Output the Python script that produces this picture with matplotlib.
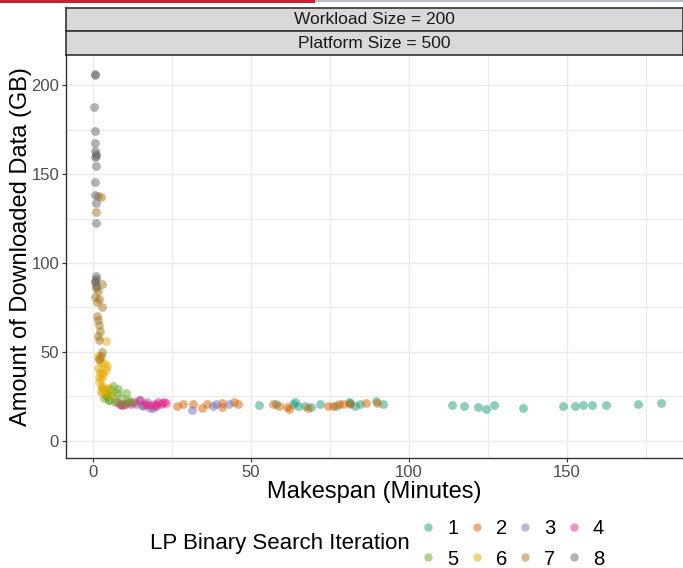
import matplotlib.pyplot as plt
from matplotlib.lines import Line2D
from matplotlib.patches import Rectangle

plt.rcParams["font.family"] = ["Liberation Sans", "DejaVu Sans"]

# iteration of the LP binary search -> (makespan in minutes, downloaded data in GB)
iterations = ["1", "2", "3", "4", "5", "6", "7", "8"]
colors = ["#1B9E77", "#D95F02", "#7570B3", "#E7298A", "#66A61E", "#E6AB02", "#A6761D", "#666666"]

x1 = [52.6, 58, 63.3, 64, 65, 67, 69, 71.8, 77, 81, 81.5, 83, 84.5, 89.6, 91.8,
      113.6, 117.4, 122, 124.4, 127, 136, 148.7, 152.5, 155, 157.8, 162.3, 172.5, 179.7]
y1 = [20, 20.5, 21, 22, 19.5, 19.8, 19.2, 20.5, 19.8, 22, 21.5, 19.5, 20.5, 22.3, 20.8,
      20.2, 19.7, 19.2, 18, 20, 18.5, 19.7, 19.8, 20, 20.3, 20.4, 20.8, 21.3]

x2 = [26.5, 28.5, 31.6, 34.5, 36, 40.8, 41, 44.5, 46, 57, 59, 61.3, 62, 68,
      74.4, 76, 78, 79, 81.3, 86.4, 90]
y2 = [19.7, 20.5, 21, 18.5, 20.5, 21.5, 19, 22, 20.5, 21, 19.7, 19, 18, 18.5,
      19.7, 19.7, 20.5, 20.5, 20.5, 21.2, 21.5]

x3 = [13.5, 14.5, 16.0, 17.0, 18.0, 20.0, 22.0, 31.3, 38, 39, 43, 15.5, 19.0]
y3 = [21, 23, 19.5, 22, 18.5, 20, 21.5, 17.5, 19.5, 20.5, 20.5, 20, 18.5]

x4 = [7.5, 8.5, 9.5, 10.5, 11.0, 13.0, 15.0, 16.5, 18.5, 19.5, 20.5, 21.5, 22.5,
      9.0, 12.0, 17.0, 20.0, 23.0]
y4 = [22, 21, 20, 21, 22, 22, 23, 21, 20, 21, 22, 21, 22, 20, 21, 20, 19.5, 21.5]

x5 = [3.0, 4.0, 4.5, 5.5, 6.5, 7.5, 3.5, 5.0, 6.0, 8.0, 9.0, 10.5, 11.0, 4.0, 7.0,
      9.5, 12.0, 5.0]
y5 = [30, 28, 25, 29, 31, 27, 24, 23, 26, 29, 24, 27, 23, 26, 22, 21, 22, 23]

x6 = [4.0, 1.5, 2.0, 2.5, 3.5, 4.5, 1.5, 2.2, 3.0, 4.0, 1.8, 2.5, 3.2, 2.0, 2.8,
      4.8, 3.5, 2.5, 3.0, 5.5]
y6 = [56, 48, 46, 44, 44, 42, 41, 39, 38, 40, 36, 35, 37, 33, 31, 30, 29, 28, 27, 26]

x7 = [1.5, 2.5, 1.0, 0.8, 2.8, 1.0, 1.5, 0.8, 2.0, 1.2, 2.8, 1.2, 1.5, 2.0, 2.2,
      1.5, 1.8, 3.0, 2.5, 2.0]
y7 = [137.5, 137, 128.5, 90, 88, 86, 84, 81, 80, 78, 75, 70, 68, 65, 62, 59, 57,
      50, 48, 46]

x8 = [0.6, 0.7, 0.5, 0.8, 0.7, 0.8, 0.9, 1.0, 0.7, 0.9, 0.8, 0.7, 0.9, 1.0,
      1.0, 0.9, 0.8, 0.9]
y8 = [206.5, 205.5, 187.5, 174, 167.5, 163, 161, 160, 159.5, 154.5, 145.5, 138,
      133.5, 122.5, 92.5, 91, 89.5, 87]

xs = [x1, x2, x3, x4, x5, x6, x7, x8]
ys = [y1, y2, y3, y4, y5, y6, y7, y8]

strip_labels = ["Workload Size = 200", "Platform Size = 500"]

W, H = 683, 568
fig = plt.figure(figsize=(W / 100, H / 100), dpi=100)

# thin coloured line at the very top of the screenshot
fig.patches.append(Rectangle((0, 1 - 3 / H), 315 / W, 3 / H, transform=fig.transFigure,
                             facecolor="#C8202F", edgecolor="none"))
fig.patches.append(Rectangle((315 / W, 1 - 2 / H), 1 - 315 / W, 2 / H, transform=fig.transFigure,
                             facecolor="#B8BCCB", edgecolor="none"))

left, right = 66 / W, 1.0
ax = fig.add_axes([left, 1 - 458 / H, right - left, 403 / H])

for it, x, y, c in zip(iterations, xs, ys, colors):
    ax.scatter(x, y, s=40, color=c, alpha=0.5, linewidths=0, zorder=3)

ax.set_xlim(-8.5, 186.7)
ax.set_ylim(-9.6, 216.9)
ax.set_xticks([0, 50, 100, 150])
ax.set_yticks([0, 50, 100, 150, 200])
ax.set_xticks([25, 75, 125, 175], minor=True)
ax.set_yticks([25, 75, 125, 175], minor=True)
ax.grid(which="major", color="#EBEBEB", linewidth=1.0, zorder=0)
ax.grid(which="minor", color="#EBEBEB", linewidth=0.8, zorder=0)
ax.set_axisbelow(True)
ax.tick_params(which="major", length=3, width=0.8, color="#333333",
               labelcolor="#4D4D4D", labelsize=12, pad=2)
ax.tick_params(which="minor", length=0)
for s in ["top", "right"]:
    ax.spines[s].set_visible(False)
for s in ["left", "bottom"]:
    ax.spines[s].set_color("#333333")
    ax.spines[s].set_linewidth(1.0)

ax.set_xlabel("Makespan (Minutes)", fontsize=17, labelpad=1)
ax.set_ylabel("Amount of Downloaded Data (GB)", fontsize=17)
ax.yaxis.set_label_coords(-0.055, 0.524)

# facet strips
strip_edges = [(8, 31), (31, 55)]
for lab, (t, b) in zip(strip_labels, strip_edges):
    sax = fig.add_axes([left, 1 - b / H, right - left, (b - t) / H])
    sax.set_facecolor("#D9D9D9")
    sax.set_xticks([])
    sax.set_yticks([])
    for sp in sax.spines.values():
        sp.set_color("#333333")
        sp.set_linewidth(1.2)
    sax.text(0.5, 0.5, lab, transform=sax.transAxes, ha="center", va="center",
             fontsize=12.5, color="#1A1A1A")

# legend, ggplot style: title on the left, keys filled row by row
handles = [Line2D([], [], marker="o", linestyle="", markersize=6, markeredgewidth=0,
                  color=c, alpha=0.5, label=it) for it, c in zip(iterations, colors)]
order = [0, 4, 1, 5, 2, 6, 3, 7]
fig.legend([handles[i] for i in order], [iterations[i] for i in order], ncol=4,
           loc="center", bbox_to_anchor=(511 / W, 1 - 544 / H), frameon=False,
           fontsize=14.5, handletextpad=0.45, columnspacing=0.4, labelspacing=0.55,
           handlelength=1.0, borderpad=0)
fig.text(280 / W, 1 - 543 / H, "LP Binary Search Iteration", ha="center", va="center",
         fontsize=16)

fig.savefig("out.png", dpi=100)
